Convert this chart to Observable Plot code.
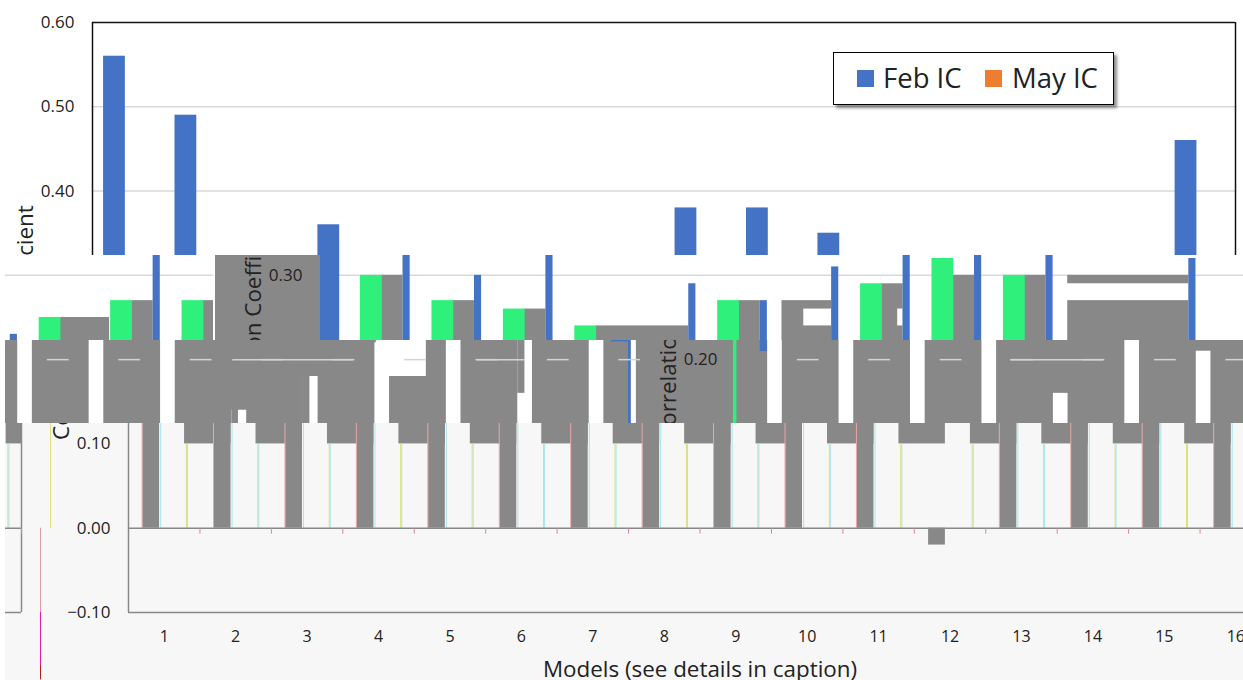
<!DOCTYPE html>
<html><head><meta charset="utf-8">
<script src="https://cdn.jsdelivr.net/npm/d3@7"></script>
<script src="https://cdn.jsdelivr.net/npm/@observablehq/plot@0.6"></script>
<style>
html,body{margin:0;padding:0;background:#fff;overflow:hidden}
#root{position:relative;width:1243px;height:680px;overflow:hidden;font-family:"Open Sans",sans-serif}
.band{position:absolute;left:0;top:0;width:1243px;height:680px;overflow:hidden}
.band svg{position:absolute;left:0;top:0;max-width:none;overflow:visible;background:transparent}
#legend{position:absolute;left:833px;top:52px;width:279px;height:51px;background:#fff;border:1px solid #000;box-shadow:3px 3px 3px rgba(0,0,0,.45);font-size:27.5px;color:#222}
#legend i{position:absolute;top:17px;width:17px;height:17px}
#legend span{position:absolute;top:8px;line-height:34px;white-space:nowrap}
</style></head><body><div id="root"></div>
<script>
// ---- chart values ----
const models = d3.range(1, 17);
const febIC = [0.56,0.49,0.30,0.36,0.20,0.29,0.27,0.31,0.38,0.38,0.35,-0.02,0.32,0.23,0.20,0.46];
const mayIC = [0.30,0.27,0.26,0.24,0.16,0.27,0.21,0.29,0.32,0.30,0.14,0.18,0.22,0.25,0.27,0.27];
const yTicks = [-0.10,0.00,0.10,0.20,0.30,0.40,0.50,0.60];
const yTitle = "Correlation Coefficient";
const xTitle = "Models (see details in caption)";
const seriesNames = ["Feb IC","May IC"];

// ---- displaced strips of the source picture ----
const BLUE="#4472c4", ORANGE="#ed7d31", GREEN="#2ff07a", GREY="#888888", PALE="#f7f7f7", GRID="#d9d9d9", WRAP=1250;
const table = models.map((m,i)=>({m,feb:febIC[i],may:mayIC[i]}));
const base = {width:1243,height:680,marginLeft:92,marginRight:8,marginTop:22,marginBottom:68,
  x:{domain:[0.5,16.5],axis:null}, y:{domain:[-0.1,0.6],axis:null},
  style:{background:"transparent",overflow:"visible",fontFamily:"'Open Sans',sans-serif",color:"#222"}};
const root = document.getElementById("root");
function layer({marks,texts=[],y0,y1,x0=0,shift=0,bg=null}){
  const d=document.createElement("div"); d.className="band";
  d.style.clipPath=`inset(${y0}px 0px ${680-y1}px ${x0}px)`;
  if(bg) d.style.background=bg;
  (shift?[shift,shift-WRAP]:[0]).forEach((s,i)=>{
    const svg=Plot.plot({...base,marks:i===0?[...marks,...texts]:marks});
    svg.style.transform=`translateX(${s}px)`;
    d.appendChild(svg);
  });
  root.appendChild(d);
}
const LOW=0.223;
const tickAxis=(vals)=>Plot.axisY(vals,{anchor:"left",tickSize:0,tickPadding:18,tickFormat:d3.format(".2f"),fontSize:17,label:null});
const titleY=Plot.text([yTitle],{frameAnchor:"left",y:()=>0.244,dx:-67,rotate:-90,fontSize:22.4,textAnchor:"middle"});
const hRule=(rows,stroke,w=1)=>Plot.ruleY(rows,{x1:"a",x2:"b",y:"v",stroke,strokeWidth:w});

// --- top strip: clean chart ---
layer({y0:0,y1:255,marks:[
  Plot.ruleY([0.5,0.4,0.3],{x1:0.5,x2:16.5,stroke:GRID,strokeWidth:1.5}),
  Plot.rect(table,{x1:d=>d.m-0.345,x2:d=>d.m-0.04,y1:0,y2:"feb",fill:BLUE}),
  Plot.ruleX([0.5,16.5],{y1:-0.1,y2:0.6,stroke:"#111",strokeWidth:1.5}),
  Plot.ruleY([0.6],{x1:0.5,x2:16.5,stroke:"#111",strokeWidth:1.5})
],texts:[tickAxis([0.6,0.5,0.4]), titleY]});

// --- second strip ---
const runs=[];
table.forEach((d,i)=>{
  if(d.may<=LOW) return;
  let end=16.5;
  for(let j=i+1;j<table.length;j++){
    const n=table[j];
    if(n.feb>LOW){end=n.m-0.345;break;}
    if(n.may>LOW){end=n.m+0.045;break;}
  }
  runs.push({a:d.m+0.35,b:end,v:Math.min(d.may,0.30)});
});
const greyPatches=[
  {a:-0.97,b:0.5,top:0.36,bot:0.2},
  {a:6.96,b:7.655,top:0.27,bot:0.2},
  {a:10.96,b:12.655,top:0.27,bot:0.2},
  {a:10.96,b:12.655,top:0.30,bot:0.29}];
const whitePatches=[{a:7.265,b:7.655,top:0.26,bot:0.24},{a:8.58,b:8.655,top:0.26,bot:0.24}];
layer({y0:255,y1:340,x0:5,shift:228,bg:"#fff",marks:[
  Plot.ruleY([0.3],{x1:0.5,x2:16.5,stroke:GRID,strokeWidth:1.5}),
  Plot.rect(greyPatches,{x1:"a",x2:"b",y1:"bot",y2:"top",fill:GREY}),
  Plot.rect(runs,{x1:"a",x2:"b",y1:0,y2:"v",fill:GREY}),
  Plot.rect(whitePatches,{x1:"a",x2:"b",y1:"bot",y2:"top",fill:"#fff"}),
  Plot.rect(table,{x1:d=>d.m+0.06,x2:d=>d.m+0.365,y1:0,y2:"may",fill:GREEN}),
  Plot.rect(table,{x1:d=>d.m-0.345,x2:d=>d.m-0.245,y1:0,y2:"feb",fill:BLUE})
],texts:[tickAxis([0.3]), titleY]});
layer({y0:255,y1:340,x0:320,marks:[
  Plot.rect(table.filter(d=>d.m===4),{x1:d=>d.m-0.345,x2:d=>d.m-0.04,y1:0,y2:"feb",fill:BLUE})
]});

// --- third strip ---
const dashes=models.map(m=>({a:m+0.365,b:m+0.67,v:0.2}));
const longDashes=[{a:10.96,b:12.65,v:0.2},{a:4.35,b:5.65,v:0.2},{a:14.38,b:15.05,v:0.2}];
const coverPatches=[{a:10.95,b:11.04,top:0.3,bot:0},{a:11.95,b:12.04,top:0.3,bot:0},{a:14.95,b:15.05,top:0.3,bot:0.16}];
layer({y0:340,y1:423,x0:5,shift:643,bg:GREY,marks:[
  Plot.rect([{a:12.97,b:13.67,top:0.24,bot:0.18}],{x1:"a",x2:"b",y1:"bot",y2:"top",fill:"#fff"}),
  Plot.rect(table,{x1:d=>d.m-0.05,x2:d=>d.m+0.155,y1:0,y2:"may",fill:"#fff"}),
  Plot.rect(coverPatches,{x1:"a",x2:"b",y1:"bot",y2:"top",fill:GREY}),
  Plot.rect([{a:16.5,b:16.54}],{x1:"a",x2:"b",y1:0,y2:0.3,fill:BLUE}),
  Plot.rect([{a:16.26,b:16.5}],{x1:"a",x2:"b",y1:0.221,y2:0.224,fill:BLUE}),
  Plot.rect([{a:16.54,b:16.61}],{x1:"a",x2:"b",y1:0,y2:0.3,fill:"#fff"}),
  Plot.rect([{a:0.47,b:0.52}],{x1:"a",x2:"b",y1:0,y2:0.3,fill:GREEN}),
  hRule(dashes,"#d4d4d4",1.5), hRule(longDashes,"#d4d4d4",1.5)
],texts:[tickAxis([0.2]), titleY]});
layer({y0:340,y1:351,shift:228,marks:[
  Plot.rect(table.filter(d=>d.m===7),{x1:d=>d.m-0.345,x2:d=>d.m-0.245,y1:0,y2:"feb",fill:BLUE})
]});

// --- bottom strip ---
const upper=models.map(m=>({a:m+0.285,b:Math.min(m+0.935,16.5)}));
layer({y0:423,y1:680,x0:5,shift:36,bg:PALE,marks:[
  Plot.rect(upper,{x1:"a",x2:"b",y1:0.1,y2:0.14,fill:GREY}),
  Plot.ruleX(models,{x:d=>d+0.31,y1:0,y2:0.1,stroke:"#dede7a",strokeWidth:1}),
  Plot.ruleX(models,{x:d=>d+0.325,y1:0,y2:0.1,stroke:"#a9e6ea",strokeWidth:1}),
  Plot.rect(table,{x1:d=>d.m-0.30,x2:d=>d.m-0.065,y1:0,y2:"feb",fill:GREY}),
  Plot.ruleX(table.filter(d=>d.feb>0),{x:d=>d.m-0.31,y1:0,y2:0.14,stroke:"#eaa6a6",strokeWidth:1}),
  Plot.ruleX(table.filter(d=>d.feb>0),{x:d=>d.m-0.05,y1:0,y2:0.14,stroke:"#a9e6ea",strokeWidth:1}),
  Plot.ruleY([0,-0.1],{x1:0.5,x2:16.5,stroke:GREY,strokeWidth:1.5}),
  Plot.ruleX([0.5,16.5],{y1:-0.1,y2:0.14,stroke:GREY,strokeWidth:1.5}),
  Plot.ruleX(models,{x:d=>d+0.5,y1:0,y2:-0.007,stroke:"#d08a90"})
],texts:[
  Plot.axisX(models,{anchor:"bottom",tickSize:0,tickPadding:18,tickFormat:d3.format("d"),fontSize:16,label:null}),
  Plot.text([xTitle],{x:()=>8.5,y:()=>-0.168,fontSize:22.4,textAnchor:"middle"}),
  tickAxis([0.1,0,-0.1]), titleY,
  Plot.ruleX([0.5],{dx:-78,y1:0,y2:0.14,stroke:"#dede7a",strokeWidth:1}),
  Plot.ruleX([0.5],{dx:-88,y1:0,y2:-0.1,stroke:"#e69aa8",strokeWidth:1}),
  Plot.ruleX([0.5],{dx:-88,y1:-0.1,y2:-0.163,stroke:"#e020a0",strokeWidth:1}),
  Plot.ruleX([0.5],{dx:-88,y1:-0.163,y2:-0.18,stroke:"#b02020",strokeWidth:1})
]});

// --- legend ---
const lg=document.createElement("div"); lg.id="legend";
const swatches=[BLUE,ORANGE], sx=[23,151], tx=[49,178];
seriesNames.forEach((n,i)=>{
  const sw=document.createElement("i"); sw.style.left=sx[i]+"px"; sw.style.background=swatches[i]; lg.appendChild(sw);
  const t=document.createElement("span"); t.style.left=tx[i]+"px"; t.textContent=n; lg.appendChild(t);
});
root.appendChild(lg);
</script></body></html>
